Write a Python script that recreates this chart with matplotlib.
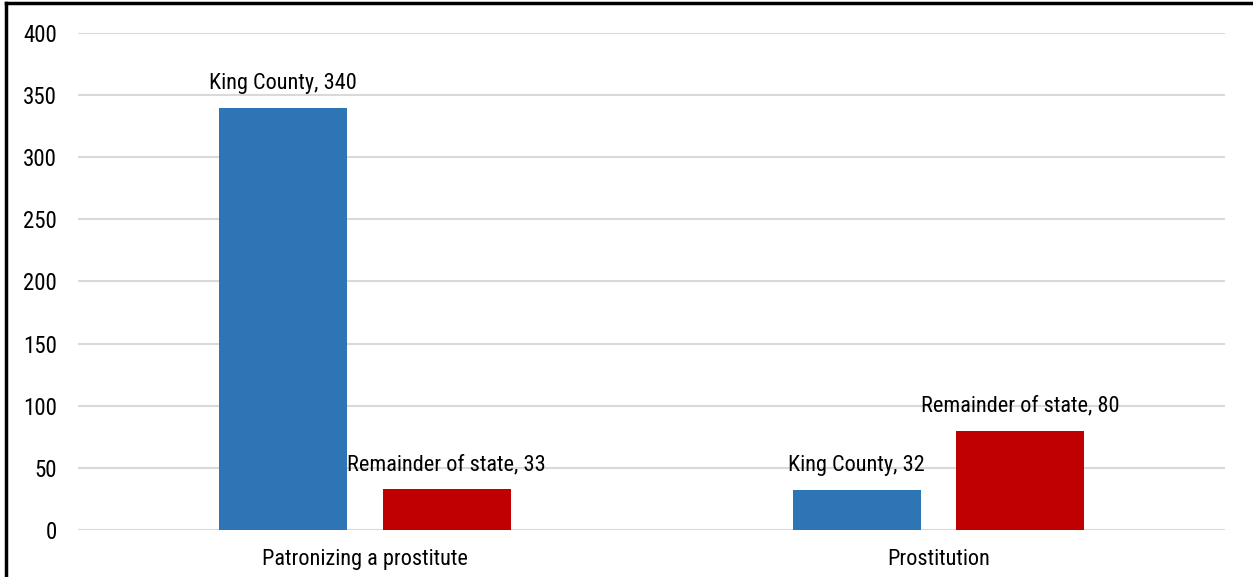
import numpy as np
from matplotlib import pyplot as plt
from matplotlib.lines import Line2D

plt.rcParams['font.family'] = ['Roboto Condensed', 'Liberation Sans', 'DejaVu Sans']

categories = ['Patronizing a prostitute', 'Prostitution']
series_names = ['King County', 'Remainder of state']
king_county = [340, 32]
remainder = [33, 80]
colors = ['#2E75B6', '#C00000']

fig = plt.figure(figsize=(12.53, 5.77), dpi=100)
ax = fig.add_axes([0.0623, 0.0815, 0.9154, 0.8613])

x = np.arange(len(categories))
w = 0.2232  # bar width
off = 0.1425  # offset from category centre

for vals, name, c, sign in [(king_county, series_names[0], colors[0], -1),
                            (remainder, series_names[1], colors[1], 1)]:
    bars = ax.bar(x + sign * off, vals, width=w, color=c, zorder=3)
    for b, v in zip(bars, vals):
        ax.annotate(name + ', ' + str(v), (b.get_x() + b.get_width() / 2, v),
                    xytext=(0, 10), textcoords='offset points',
                    ha='center', va='bottom', fontsize=16)

ax.set_xlim(-0.5, 1.5)
ax.set_ylim(0, 400)
ax.set_yticks(np.arange(0, 401, 50))
ax.set_xticks(x)
ax.set_xticklabels(categories, fontsize=16)
ax.tick_params(axis='y', length=0, pad=15, labelsize=16.5)
ax.tick_params(axis='x', length=0, pad=14)
ax.yaxis.grid(True, color='#d9d9d9', linewidth=1.5, zorder=0)
for s in ax.spines.values():
    s.set_visible(False)

# outer frame (left and top edges visible)
fig.add_artist(Line2D([0.005, 0.005], [0, 0.995], color='black', lw=2.5, transform=fig.transFigure))
fig.add_artist(Line2D([0.005, 1], [0.995, 0.995], color='black', lw=2.5, transform=fig.transFigure))

fig.savefig('out.png', dpi=100)
